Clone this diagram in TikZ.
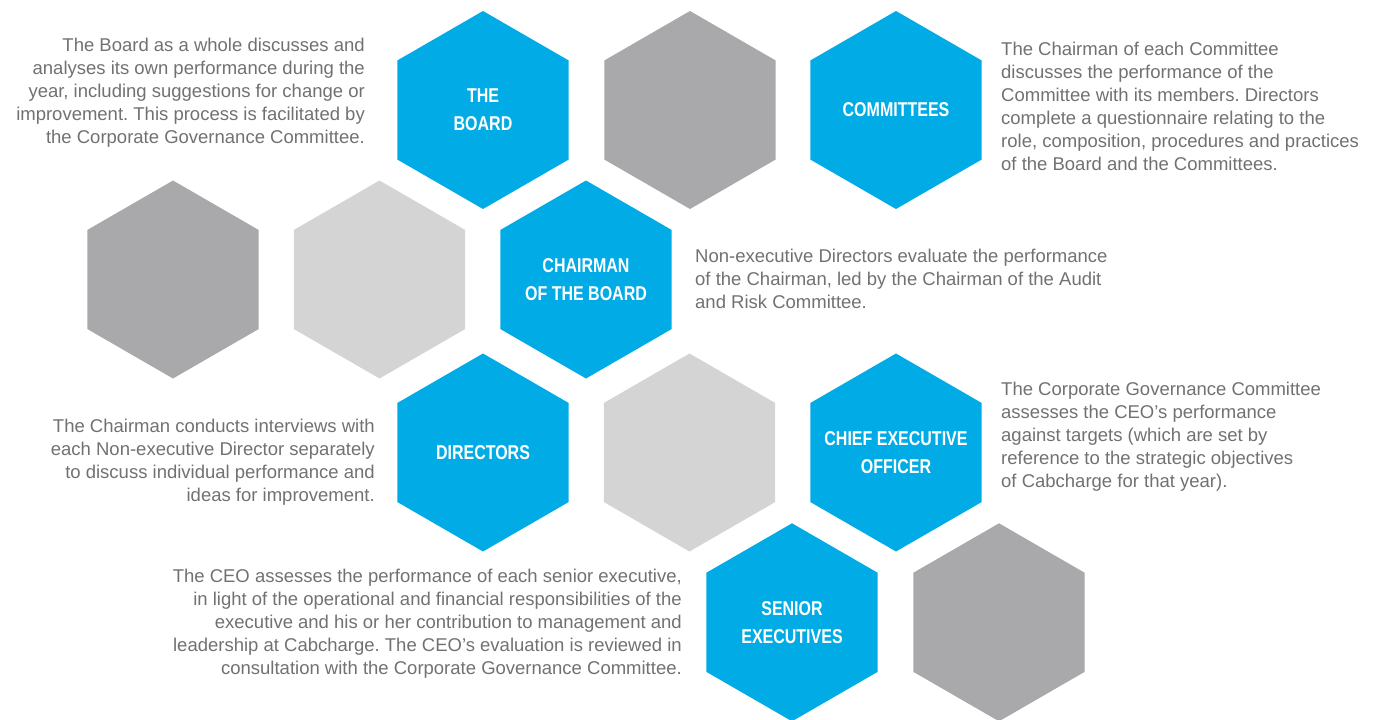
\documentclass[tikz,border=0pt]{standalone}
\usepackage{fontspec}
\setmainfont{Liberation Sans}
\newfontfamily\hexfont[FakeStretch=0.8]{Liberation Sans}
\usetikzlibrary{shapes.geometric}
\definecolor{hexblue}{HTML}{00ABE6}
\definecolor{hexdark}{HTML}{A9A9AB}
\definecolor{hexlight}{HTML}{D4D4D4}
\definecolor{bodygrey}{HTML}{707173}
\tikzset{
  hexagon/.style={regular polygon, regular polygon sides=6, shape border rotate=30,
    minimum size=198pt, inner sep=0pt, outer sep=0pt, draw=none},
  hexb/.style={hexagon, fill=hexblue},
  hexd/.style={hexagon, fill=hexdark},
  hexl/.style={hexagon, fill=hexlight},
  hexlabel/.style={text=white, align=center, inner sep=0pt,
    font=\hexfont\bfseries\fontsize{20}{28}\selectfont},
  bodyr/.style={anchor=east, align=right, inner sep=0pt, text=bodygrey,
    font=\fontsize{18.5}{23}\selectfont},
  bodyl/.style={anchor=west, align=left, inner sep=0pt, text=bodygrey,
    font=\fontsize{18.5}{23}\selectfont}
}
\frenchspacing
\begin{document}
\begin{tikzpicture}[x=1pt,y=-1pt]
\useasboundingbox (0,0) rectangle (1382,720);
% row 1
\node[hexb] (board) at (483,110) {};
\node[hexd] (g1) at (690,110) {};
\node[hexb] (comm) at (896,110) {};
% row 2
\node[hexd] (g2) at (173,279.5) {};
\node[hexl] (g3) at (379.5,279.5) {};
\node[hexb] (chair) at (586,279.5) {};
% row 3
\node[hexb] (dir) at (483,452.5) {};
\node[hexl] (g4) at (689.5,452.5) {};
\node[hexb] (ceo) at (896,452.5) {};
% row 4
\node[hexb] (senior) at (792,622.3) {};
\node[hexd] (g5) at (999,622.3) {};
% hexagon labels
\node[hexlabel] (lboard) at (board.center) {THE\\BOARD};
\node[hexlabel] (lcomm) at (comm.center) {COMMITTEES};
\node[hexlabel] (lchair) at (chair.center) {CHAIRMAN\\OF THE BOARD};
\node[hexlabel] (ldir) at (dir.center) {DIRECTORS};
\node[hexlabel] (lceo) at (ceo.center) {CHIEF EXECUTIVE\\OFFICER};
\node[hexlabel] (lsenior) at (senior.center) {SENIOR\\EXECUTIVES};
% texts
\node[bodyr] (tboard) at (365,93) {The Board as a whole discusses and\\analyses its own performance during the\\year, including suggestions for change or\\improvement. This process is facilitated by\\the Corporate Governance Committee.};
\node[bodyl] (tcomm) at (1001,106) {The Chairman of each Committee\\discusses the performance of the\\Committee with its members. Directors\\complete a questionnaire relating to the\\role, composition, procedures and practices\\of the Board and the Committees.};
\node[bodyl] (tchair) at (695,279) {Non-executive Directors evaluate the performance\\of the Chairman, led by the Chairman of the Audit\\and Risk Committee.};
\node[bodyr] (tdir) at (375,462.5) {The Chairman conducts interviews with\\each Non-executive Director separately\\to discuss individual performance and\\ideas for improvement.};
\node[bodyl] (tceo) at (1001,437) {The Corporate Governance Committee\\assesses the CEO’s performance\\against targets (which are set by\\reference to the strategic objectives\\of Cabcharge for that year).};
\node[bodyr] (tsenior) at (682,624) {The CEO assesses the performance of each senior executive,\\in light of the operational and financial responsibilities of the\\executive and his or her contribution to management and\\leadership at Cabcharge. The CEO’s evaluation is reviewed in\\consultation with the Corporate Governance Committee.};
\end{tikzpicture}
\end{document}
